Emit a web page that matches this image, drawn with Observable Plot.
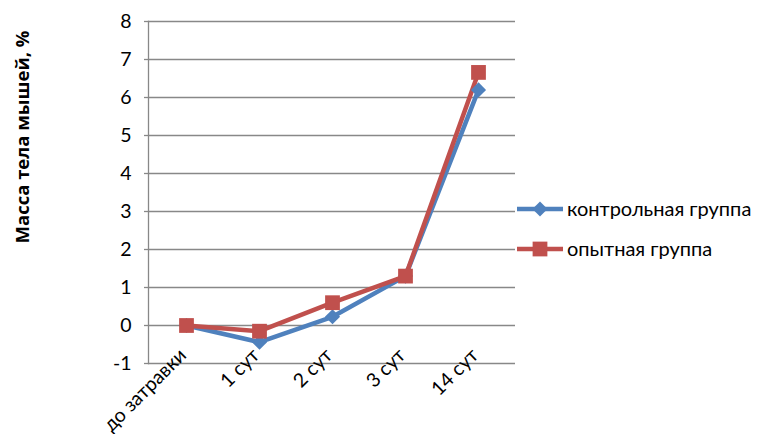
<!DOCTYPE html>
<html><head><meta charset="utf-8">
<script src="https://cdn.jsdelivr.net/npm/d3@7"></script>
<script src="https://cdn.jsdelivr.net/npm/@observablehq/plot@0.6"></script>
<style>
body{margin:0;background:#fff;}
svg{font-family:Lato,"Liberation Sans",sans-serif;}
</style></head><body>
<div id="chart"></div>
<script>
const categories = ["до затравки", "1 сут", "2 сут", "3 сут", "14 сут"];
const controlValues = [0, -0.44, 0.23, 1.3, 6.2];
const experimentalValues = [0, -0.15, 0.6, 1.3, 6.66];
const seriesNames = ["контрольная группа", "опытная группа"];
const yTicks = [-1, 0, 1, 2, 3, 4, 5, 6, 7, 8];
const yTitle = "Масса тела мышей, %";

const blue = "#4F81BD", red = "#C0504D", grid = "#888888";
const control = categories.map((c, i) => ({cat: c, v: controlValues[i]}));
const experimental = categories.map((c, i) => ({cat: c, v: experimentalValues[i]}));

const chart = Plot.plot({
  width: 761, height: 434,
  marginLeft: 148, marginRight: 246, marginTop: 21, marginBottom: 71,
  style: {fontFamily: "Lato, 'Liberation Sans', sans-serif", background: "#fff"},
  x: {type: "point", domain: categories, padding: 0.5, axis: null},
  y: {domain: [-1, 8], ticks: yTicks, label: null},
  marks: [
    Plot.gridY(yTicks, {stroke: grid, strokeOpacity: 1, strokeWidth: 1.3}),
    Plot.frame({anchor: "left", stroke: grid, strokeWidth: 1.3}),
    Plot.axisY(yTicks, {tickSize: 4, tickPadding: 13, fontSize: 19.5, fill: "#000", stroke: grid, strokeWidth: 1.3, label: null, tickFormat: d => String(d)}),
    Plot.lineY(control, {x: "cat", y: "v", stroke: blue, strokeWidth: 4.5}),
    Plot.lineY(experimental, {x: "cat", y: "v", stroke: red, strokeWidth: 4.5}),
    Plot.dot(control, {x: "cat", y: "v", symbol: "diamond2", r: 6.8, fill: blue, stroke: blue, strokeWidth: 0}),
    Plot.dot(experimental, {x: "cat", y: "v", symbol: "square2", r: 9.4, fill: red, stroke: red, strokeWidth: 0}),
    Plot.text(categories, {x: d => d, y: -1, text: d => d, rotate: -45, textAnchor: "end", lineAnchor: "bottom", dx: 1, dy: -7, fontSize: 19.5, fill: "#000"})
  ]
});
document.getElementById("chart").appendChild(chart);

const svg = d3.select(chart);
// y-axis title
svg.append("text")
  .attr("transform", "translate(29,137) rotate(-90)")
  .attr("text-anchor", "middle")
  .style("font-family", "'Open Sans', 'Liberation Sans', sans-serif")
  .style("font-weight", "700")
  .attr("font-size", 18.5).attr("fill", "#000")
  .text(yTitle);

// legend
const legend = [
  {name: seriesNames[0], color: blue, sym: d3.symbolDiamond2, r: 6.8, y: 209},
  {name: seriesNames[1], color: red, sym: d3.symbolSquare2, r: 9.4, y: 249}
];
legend.forEach(l => {
  svg.append("path").attr("d", `M517,${l.y}H563`)
    .attr("fill", "none").attr("stroke", l.color).attr("stroke-width", 4.5);
  svg.append("path").attr("d", d3.symbol(l.sym, Math.PI * l.r * l.r)())
    .attr("transform", `translate(540,${l.y})`).attr("fill", l.color).attr("stroke", "none");
  svg.append("text").attr("x", 567).attr("y", l.y).attr("dy", "0.35em")
    .attr("text-anchor", "start").attr("font-size", 20).attr("fill", "#000").text(l.name);
});
</script>
</body></html>
